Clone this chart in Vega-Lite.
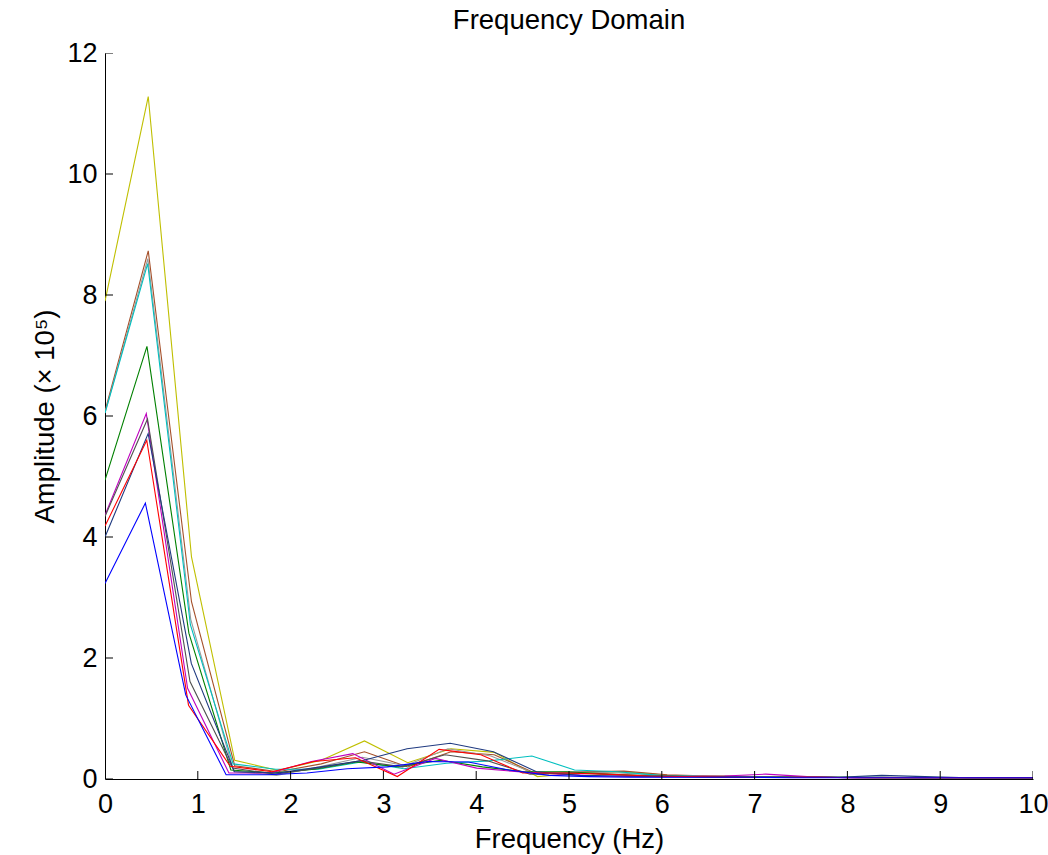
{
  "$schema": "https://vega.github.io/schema/vega-lite/v6.json",
  "autosize": "none",
  "width": 928,
  "height": 726,
  "padding": {"left": 105, "top": 53, "right": 15, "bottom": 76},
  "background": "white",
  "title": {"text": "Frequency Domain", "font": "Liberation Sans", "fontSize": 27.5, "fontWeight": "normal", "color": "black", "offset": 5, "anchor": "middle"},
  "config": {
    "view": {"stroke": null},
    "axis": {"grid": false, "domainColor": "black", "tickColor": "black", "labelFont": "Liberation Sans", "labelFontSize": 27, "labelColor": "black", "titleFont": "Liberation Sans", "titleFontSize": 27.5, "titleFontWeight": "normal", "titleColor": "black", "domainWidth": 1, "tickWidth": 1}
  },
  "datasets": {
    "xticks": [{"v":0},{"v":1},{"v":2},{"v":3},{"v":4},{"v":5},{"v":6},{"v":7},{"v":8},{"v":9},{"v":10}],
    "yticks": [{"v":0},{"v":2},{"v":4},{"v":6},{"v":8},{"v":10},{"v":12}]
  },
  "data": {"values": [
    {"s":"yellow","x":0,"y":7.9},{"s":"yellow","x":0.466,"y":11.28},{"s":"yellow","x":0.932,"y":3.67},{"s":"yellow","x":1.398,"y":0.31},{"s":"yellow","x":1.864,"y":0.14},{"s":"yellow","x":2.33,"y":0.31},{"s":"yellow","x":2.796,"y":0.63},{"s":"yellow","x":3.262,"y":0.27},{"s":"yellow","x":3.728,"y":0.5},{"s":"yellow","x":4.194,"y":0.44},{"s":"yellow","x":4.66,"y":0.04},{"s":"yellow","x":5.126,"y":0.1},{"s":"yellow","x":5.592,"y":0.12},{"s":"yellow","x":6.058,"y":0.06},{"s":"yellow","x":6.524,"y":0.05},{"s":"yellow","x":6.99,"y":0.04},{"s":"yellow","x":7.456,"y":0.03},{"s":"yellow","x":7.922,"y":0.03},{"s":"yellow","x":8.388,"y":0.02},{"s":"yellow","x":8.854,"y":0.02},{"s":"yellow","x":9.32,"y":0.02},{"s":"yellow","x":9.786,"y":0.02},{"s":"yellow","x":10.252,"y":0.02},
    {"s":"brown","x":0,"y":6.08},{"s":"brown","x":0.466,"y":8.73},{"s":"brown","x":0.932,"y":2.93},{"s":"brown","x":1.398,"y":0.22},{"s":"brown","x":1.864,"y":0.12},{"s":"brown","x":2.33,"y":0.25},{"s":"brown","x":2.796,"y":0.45},{"s":"brown","x":3.262,"y":0.2},{"s":"brown","x":3.728,"y":0.45},{"s":"brown","x":4.194,"y":0.4},{"s":"brown","x":4.66,"y":0.08},{"s":"brown","x":5.126,"y":0.12},{"s":"brown","x":5.592,"y":0.13},{"s":"brown","x":6.058,"y":0.07},{"s":"brown","x":6.524,"y":0.05},{"s":"brown","x":6.99,"y":0.04},{"s":"brown","x":7.456,"y":0.04},{"s":"brown","x":7.922,"y":0.03},{"s":"brown","x":8.388,"y":0.03},{"s":"brown","x":8.854,"y":0.02},{"s":"brown","x":9.32,"y":0.02},{"s":"brown","x":9.786,"y":0.02},{"s":"brown","x":10.252,"y":0.02},
    {"s":"gray","x":0,"y":6.05},{"s":"gray","x":0.462,"y":8.6},{"s":"gray","x":0.924,"y":2.64},{"s":"gray","x":1.386,"y":0.13},{"s":"gray","x":1.848,"y":0.06},{"s":"gray","x":2.31,"y":0.2},{"s":"gray","x":2.772,"y":0.36},{"s":"gray","x":3.234,"y":0.22},{"s":"gray","x":3.696,"y":0.5},{"s":"gray","x":4.158,"y":0.38},{"s":"gray","x":4.62,"y":0.1},{"s":"gray","x":5.082,"y":0.12},{"s":"gray","x":5.544,"y":0.1},{"s":"gray","x":6.006,"y":0.06},{"s":"gray","x":6.468,"y":0.05},{"s":"gray","x":6.93,"y":0.04},{"s":"gray","x":7.392,"y":0.03},{"s":"gray","x":7.854,"y":0.03},{"s":"gray","x":8.316,"y":0.03},{"s":"gray","x":8.778,"y":0.02},{"s":"gray","x":9.24,"y":0.02},{"s":"gray","x":9.702,"y":0.02},{"s":"gray","x":10.164,"y":0.02},
    {"s":"cyan","x":0,"y":6.05},{"s":"cyan","x":0.46,"y":8.52},{"s":"cyan","x":0.92,"y":2.55},{"s":"cyan","x":1.38,"y":0.25},{"s":"cyan","x":1.84,"y":0.16},{"s":"cyan","x":2.3,"y":0.16},{"s":"cyan","x":2.76,"y":0.28},{"s":"cyan","x":3.22,"y":0.17},{"s":"cyan","x":3.68,"y":0.26},{"s":"cyan","x":4.14,"y":0.3},{"s":"cyan","x":4.6,"y":0.38},{"s":"cyan","x":5.06,"y":0.15},{"s":"cyan","x":5.52,"y":0.12},{"s":"cyan","x":5.98,"y":0.06},{"s":"cyan","x":6.44,"y":0.04},{"s":"cyan","x":6.9,"y":0.04},{"s":"cyan","x":7.36,"y":0.04},{"s":"cyan","x":7.82,"y":0.03},{"s":"cyan","x":8.28,"y":0.03},{"s":"cyan","x":8.74,"y":0.02},{"s":"cyan","x":9.2,"y":0.02},{"s":"cyan","x":9.66,"y":0.02},{"s":"cyan","x":10.12,"y":0.02},
    {"s":"green","x":0,"y":4.94},{"s":"green","x":0.452,"y":7.15},{"s":"green","x":0.904,"y":2.41},{"s":"green","x":1.356,"y":0.15},{"s":"green","x":1.808,"y":0.1},{"s":"green","x":2.26,"y":0.16},{"s":"green","x":2.712,"y":0.28},{"s":"green","x":3.164,"y":0.2},{"s":"green","x":3.616,"y":0.31},{"s":"green","x":4.068,"y":0.2},{"s":"green","x":4.52,"y":0.12},{"s":"green","x":4.972,"y":0.12},{"s":"green","x":5.424,"y":0.08},{"s":"green","x":5.876,"y":0.05},{"s":"green","x":6.328,"y":0.04},{"s":"green","x":6.78,"y":0.03},{"s":"green","x":7.232,"y":0.03},{"s":"green","x":7.684,"y":0.03},{"s":"green","x":8.136,"y":0.02},{"s":"green","x":8.588,"y":0.02},{"s":"green","x":9.04,"y":0.02},{"s":"green","x":9.492,"y":0.02},{"s":"green","x":9.944,"y":0.02},{"s":"green","x":10.396,"y":0.02},
    {"s":"magenta","x":0,"y":4.36},{"s":"magenta","x":0.445,"y":6.04},{"s":"magenta","x":0.89,"y":1.5},{"s":"magenta","x":1.335,"y":0.1},{"s":"magenta","x":1.78,"y":0.1},{"s":"magenta","x":2.225,"y":0.29},{"s":"magenta","x":2.67,"y":0.42},{"s":"magenta","x":3.115,"y":0.08},{"s":"magenta","x":3.56,"y":0.34},{"s":"magenta","x":4.005,"y":0.18},{"s":"magenta","x":4.45,"y":0.12},{"s":"magenta","x":4.895,"y":0.08},{"s":"magenta","x":5.34,"y":0.05},{"s":"magenta","x":5.785,"y":0.04},{"s":"magenta","x":6.23,"y":0.04},{"s":"magenta","x":6.675,"y":0.05},{"s":"magenta","x":7.12,"y":0.08},{"s":"magenta","x":7.565,"y":0.04},{"s":"magenta","x":8.01,"y":0.02},{"s":"magenta","x":8.455,"y":0.02},{"s":"magenta","x":8.9,"y":0.02},{"s":"magenta","x":9.345,"y":0.02},{"s":"magenta","x":9.79,"y":0.02},{"s":"magenta","x":10.235,"y":0.02},
    {"s":"darkgray","x":0,"y":4.34},{"s":"darkgray","x":0.458,"y":5.95},{"s":"darkgray","x":0.916,"y":1.61},{"s":"darkgray","x":1.374,"y":0.18},{"s":"darkgray","x":1.832,"y":0.08},{"s":"darkgray","x":2.29,"y":0.18},{"s":"darkgray","x":2.748,"y":0.3},{"s":"darkgray","x":3.206,"y":0.2},{"s":"darkgray","x":3.664,"y":0.4},{"s":"darkgray","x":4.122,"y":0.3},{"s":"darkgray","x":4.58,"y":0.08},{"s":"darkgray","x":5.038,"y":0.1},{"s":"darkgray","x":5.496,"y":0.07},{"s":"darkgray","x":5.954,"y":0.05},{"s":"darkgray","x":6.412,"y":0.04},{"s":"darkgray","x":6.87,"y":0.03},{"s":"darkgray","x":7.328,"y":0.03},{"s":"darkgray","x":7.786,"y":0.03},{"s":"darkgray","x":8.244,"y":0.02},{"s":"darkgray","x":8.702,"y":0.02},{"s":"darkgray","x":9.16,"y":0.02},{"s":"darkgray","x":9.618,"y":0.02},{"s":"darkgray","x":10.076,"y":0.02},
    {"s":"navy","x":0,"y":4.0},{"s":"navy","x":0.465,"y":5.71},{"s":"navy","x":0.93,"y":1.91},{"s":"navy","x":1.395,"y":0.12},{"s":"navy","x":1.86,"y":0.1},{"s":"navy","x":2.325,"y":0.2},{"s":"navy","x":2.79,"y":0.31},{"s":"navy","x":3.255,"y":0.5},{"s":"navy","x":3.72,"y":0.59},{"s":"navy","x":4.185,"y":0.45},{"s":"navy","x":4.65,"y":0.12},{"s":"navy","x":5.115,"y":0.06},{"s":"navy","x":5.58,"y":0.05},{"s":"navy","x":6.045,"y":0.04},{"s":"navy","x":6.51,"y":0.04},{"s":"navy","x":6.975,"y":0.03},{"s":"navy","x":7.44,"y":0.03},{"s":"navy","x":7.905,"y":0.03},{"s":"navy","x":8.37,"y":0.06},{"s":"navy","x":8.835,"y":0.04},{"s":"navy","x":9.3,"y":0.02},{"s":"navy","x":9.765,"y":0.02},{"s":"navy","x":10.23,"y":0.02},
    {"s":"red","x":0,"y":4.18},{"s":"red","x":0.45,"y":5.6},{"s":"red","x":0.9,"y":1.22},{"s":"red","x":1.35,"y":0.21},{"s":"red","x":1.8,"y":0.12},{"s":"red","x":2.25,"y":0.29},{"s":"red","x":2.7,"y":0.35},{"s":"red","x":3.15,"y":0.04},{"s":"red","x":3.6,"y":0.49},{"s":"red","x":4.05,"y":0.4},{"s":"red","x":4.5,"y":0.1},{"s":"red","x":4.95,"y":0.1},{"s":"red","x":5.4,"y":0.08},{"s":"red","x":5.85,"y":0.05},{"s":"red","x":6.3,"y":0.04},{"s":"red","x":6.75,"y":0.03},{"s":"red","x":7.2,"y":0.03},{"s":"red","x":7.65,"y":0.03},{"s":"red","x":8.1,"y":0.02},{"s":"red","x":8.55,"y":0.02},{"s":"red","x":9,"y":0.02},{"s":"red","x":9.45,"y":0.02},{"s":"red","x":9.9,"y":0.02},{"s":"red","x":10.35,"y":0.02},
    {"s":"blue","x":0,"y":3.23},{"s":"blue","x":0.435,"y":4.56},{"s":"blue","x":0.87,"y":1.39},{"s":"blue","x":1.305,"y":0.07},{"s":"blue","x":1.74,"y":0.07},{"s":"blue","x":2.175,"y":0.1},{"s":"blue","x":2.61,"y":0.17},{"s":"blue","x":3.045,"y":0.2},{"s":"blue","x":3.48,"y":0.29},{"s":"blue","x":3.915,"y":0.28},{"s":"blue","x":4.35,"y":0.15},{"s":"blue","x":4.785,"y":0.06},{"s":"blue","x":5.22,"y":0.04},{"s":"blue","x":5.655,"y":0.03},{"s":"blue","x":6.09,"y":0.03},{"s":"blue","x":6.525,"y":0.03},{"s":"blue","x":6.96,"y":0.03},{"s":"blue","x":7.395,"y":0.02},{"s":"blue","x":7.83,"y":0.02},{"s":"blue","x":8.265,"y":0.02},{"s":"blue","x":8.7,"y":0.02},{"s":"blue","x":9.135,"y":0.02},{"s":"blue","x":9.57,"y":0.02},{"s":"blue","x":10.005,"y":0.02}
  ]},
  "layer": [
    {
      "mark": {"type": "line", "strokeWidth": 1.1, "clip": true},
      "encoding": {
        "x": {"field": "x", "type": "quantitative", "scale": {"domain": [0, 10], "nice": false, "zero": false},
          "axis": {"title": "Frequency (Hz)", "values": [0,1,2,3,4,5,6,7,8,9,10], "format": "d", "ticks": false, "labelPadding": 12, "titlePadding": 8, "labelFlush": false}},
        "y": {"field": "y", "type": "quantitative", "scale": {"domain": [0, 12], "nice": false},
          "axis": {"title": "Amplitude (× 10⁵)", "values": [0,2,4,6,8,10,12], "format": "d", "ticks": false, "labelPadding": 8, "titlePadding": 7, "labelFlush": false}},
        "color": {"field": "s", "type": "nominal", "legend": null,
          "scale": {"domain": ["blue","red","green","cyan","magenta","yellow","brown","gray","navy","darkgray"],
            "range": ["#0000ff","#ff0000","#008000","#00bfbf","#bf00bf","#bfbf00","#a5502a","#999999","#1f3a80","#505050"]}}
      }
    },
    {
      "data": {"name": "xticks"},
      "mark": {"type": "tick", "orient": "vertical", "color": "black", "size": 16, "thickness": 1, "clip": true, "opacity": 1},
      "encoding": {
        "x": {"field": "v", "type": "quantitative"},
        "y": {"datum": 0, "type": "quantitative"}
      }
    },
    {
      "data": {"name": "yticks"},
      "mark": {"type": "tick", "orient": "horizontal", "color": "black", "size": 16, "thickness": 1, "clip": true, "opacity": 1},
      "encoding": {
        "y": {"field": "v", "type": "quantitative"},
        "x": {"datum": 0, "type": "quantitative"}
      }
    }
  ]
}
